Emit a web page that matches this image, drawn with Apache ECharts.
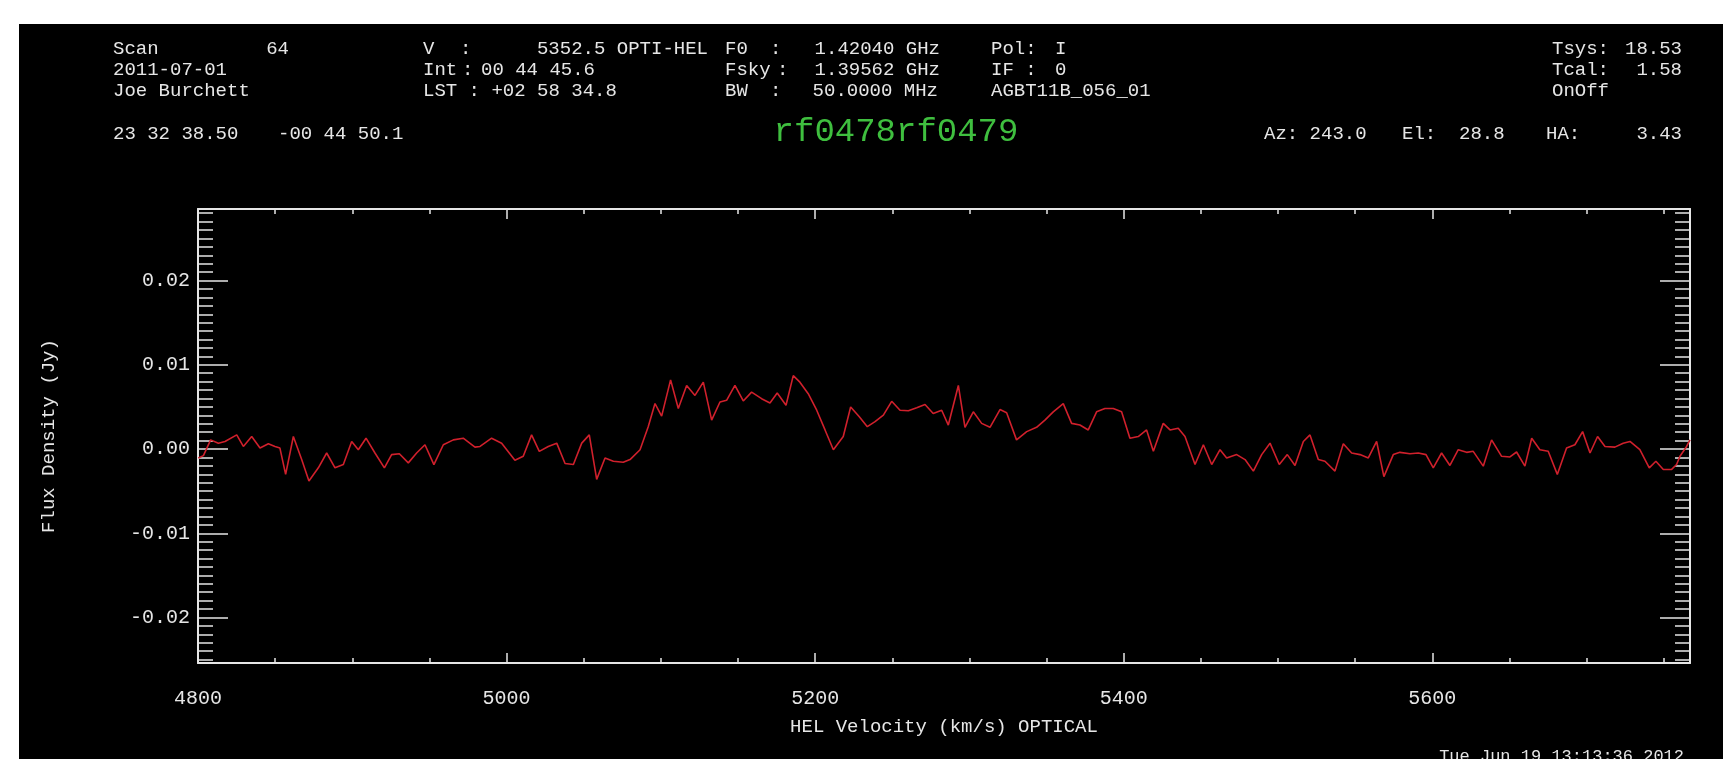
<!DOCTYPE html>
<html>
<head>
<meta charset="utf-8">
<title>rf0478rf0479</title>
<script src="https://cdn.jsdelivr.net/npm/echarts@6/dist/echarts.min.js"></script>
<style>
  html, body { margin: 0; padding: 0; background: #ffffff; }
  #panel { position: absolute; left: 19px; top: 24px; right: 0; bottom: 0; background: #000000; }
  #chart { position: absolute; left: 0; top: 0; width: 1723px; height: 759px; }
</style>
</head>
<body>
<div id="panel"></div>
<div id="chart"></div>
<script>
// Spectrum: heliocentric optical velocity (km/s) and flux density (Jy)
const velocity = [
  4800.2, 4803.5, 4808.2, 4813.2, 4817.5, 4825.1, 4829.4, 4834.8, 4840.2, 4845.6,
  4849.9, 4853.1, 4856.8, 4861.8, 4867.2, 4871.9, 4878.0, 4883.4, 4888.8, 4894.2,
  4899.6, 4903.9, 4908.9, 4914.7, 4920.8, 4925.5, 4930.5, 4936.3, 4941.7, 4947.1,
  4952.9, 4959.0, 4965.5, 4971.9, 4979.5, 4982.8, 4990.3, 4996.8, 5005.4, 5010.8,
  5016.2, 5021.2, 5027.0, 5032.5, 5037.9, 5043.3, 5048.7, 5053.6, 5058.4, 5063.8,
  5069.2, 5075.6, 5080.0, 5086.5, 5091.8, 5096.2, 5100.5, 5106.3, 5111.3, 5116.7,
  5122.1, 5127.5, 5132.9, 5138.3, 5142.6, 5148.0, 5153.4, 5158.8, 5165.3, 5170.7,
  5175.4, 5181.1, 5185.8, 5190.1, 5195.5, 5201.0, 5206.4, 5211.8, 5218.2, 5223.0,
  5228.6, 5233.8, 5238.8, 5244.2, 5249.6, 5255.0, 5260.4, 5265.8, 5271.2, 5276.5,
  5282.0, 5286.3, 5292.8, 5297.1, 5302.5, 5307.9, 5313.3, 5319.8, 5324.1, 5330.5,
  5337.1, 5343.5, 5348.9, 5354.3, 5360.8, 5366.2, 5371.6, 5377.0, 5382.4, 5387.8,
  5393.2, 5398.6, 5404.0, 5409.4, 5414.8, 5419.2, 5425.6, 5430.0, 5435.3, 5439.7,
  5446.2, 5451.6, 5457.0, 5462.4, 5466.7, 5473.2, 5478.6, 5484.0, 5489.4, 5494.8,
  5500.8, 5506.0, 5511.0, 5516.4, 5520.7, 5526.1, 5530.4, 5536.9, 5542.3, 5547.7,
  5553.1, 5558.5, 5563.9, 5568.6, 5574.7, 5579.0, 5585.5, 5590.9, 5595.9, 5600.6,
  5606.0, 5611.4, 5616.8, 5622.2, 5626.5, 5633.0, 5638.4, 5644.9, 5650.3, 5654.6,
  5660.0, 5664.4, 5669.7, 5675.1, 5681.0, 5687.0, 5692.4, 5697.4, 5702.2, 5707.1,
  5711.9, 5718.3, 5723.7, 5728.1, 5734.5, 5740.6, 5744.9, 5749.7, 5755.1, 5758.3,
  5760.5, 5764.8, 5767.0
];
const flux = [
  -0.00106, -0.00078, 0.00109, 0.00070, 0.00090, 0.00168, 0.00031, 0.00149, 0.00012, 0.00063,
  0.00031, 0.00012, -0.00301, 0.00149, -0.00125, -0.00379, -0.00223, -0.00047, -0.00223, -0.00184,
  0.00090, -0.00008, 0.00129, -0.00047, -0.00223, -0.00066, -0.00055, -0.00164, -0.00047, 0.00051,
  -0.00184, 0.00051, 0.00109, 0.00129, 0.00023, 0.00031, 0.00129, 0.00070, -0.00133, -0.00086,
  0.00168, -0.00027, 0.00031, 0.00070, -0.00172, -0.00184, 0.00070, 0.00168, -0.00360, -0.00106,
  -0.00145, -0.00156, -0.00125, -0.00008, 0.00266, 0.00540, 0.00391, 0.00821, 0.00481, 0.00755,
  0.00637, 0.00794, 0.00344, 0.00559, 0.00579, 0.00755, 0.00571, 0.00676, 0.00598, 0.00547,
  0.00665, 0.00520, 0.00872, 0.00794, 0.00657, 0.00461, 0.00227, -0.00008, 0.00149, 0.00500,
  0.00383, 0.00266, 0.00325, 0.00403, 0.00567, 0.00461, 0.00454, 0.00489, 0.00528, 0.00422,
  0.00461, 0.00285, 0.00755, 0.00258, 0.00442, 0.00305, 0.00258, 0.00469, 0.00430, 0.00109,
  0.00207, 0.00258, 0.00344, 0.00442, 0.00540, 0.00305, 0.00285, 0.00227, 0.00442, 0.00481,
  0.00481, 0.00442, 0.00129, 0.00149, 0.00227, -0.00027, 0.00305, 0.00227, 0.00246, 0.00149,
  -0.00184, 0.00051, -0.00184, -0.00008, -0.00106, -0.00066, -0.00125, -0.00262, -0.00066, 0.00070,
  -0.00184, -0.00066, -0.00195, 0.00090, 0.00168, -0.00125, -0.00145, -0.00262, 0.00063, -0.00047,
  -0.00066, -0.00106, 0.00090, -0.00328, -0.00066, -0.00039, -0.00055, -0.00047, -0.00066, -0.00223,
  -0.00047, -0.00195, -0.00008, -0.00039, -0.00027, -0.00203, 0.00109, -0.00086, -0.00094, -0.00035,
  -0.00203, 0.00129, -0.00008, -0.00027, -0.00301, 0.00012, 0.00051, 0.00207, -0.00047, 0.00149,
  0.00031, 0.00023, 0.00070, 0.00090, -0.00008, -0.00223, -0.00145, -0.00242, -0.00242, -0.00184,
  -0.00086, 0.00031, 0.00110
];

// Axis ranges and tick values
const xRange = [4800, 5767];
const yRange = [-0.0254, 0.0285];
const xMajorTicks = [4800, 5000, 5200, 5400, 5600];
const yMajorTicks = [-0.02, -0.01, 0.00, 0.01, 0.02];
const xMinorTicks = [];
for (let v = 4850; v < xRange[1]; v += 50) xMinorTicks.push(v);
const yMinorTicks = [];
for (let k = -25; k <= 28; k++) yMinorTicks.push(k / 1000);

const FG = '#e6e6e6';
const MONO = '"Liberation Mono", "DejaVu Sans Mono", monospace';

// One side of the plot frame: an axis line (optional) plus inward ticks at given values
function frameAxis(pos, range, ticks, tickLen, showLine, extra) {
  return Object.assign({
    type: 'value', position: pos, min: range[0], max: range[1], gridIndex: 0,
    axisLine: { show: showLine, onZero: false, lineStyle: { color: FG, width: 2 } },
    axisTick: { show: true, inside: true, length: tickLen, customValues: ticks,
                lineStyle: { color: FG, width: 1.5 } },
    axisLabel: { show: false },
    splitLine: { show: false }, minorTick: { show: false }, minorSplitLine: { show: false }
  }, extra || {});
}

// Header block text: [text, x, y, align]
const header = [
  ['Scan', 113, 49, 'left'], ['64', 289, 49, 'right'],
  ['V', 423, 49, 'left'], [':', 460, 49, 'left'], ['5352.5 OPTI-HEL', 708, 49, 'right'],
  ['F0', 725, 49, 'left'], [':', 770, 49, 'left'], ['1.42040 GHz', 940, 49, 'right'],
  ['Pol:', 991, 49, 'left'], ['I', 1055, 49, 'left'],
  ['Tsys:', 1552, 49, 'left'], ['18.53', 1682, 49, 'right'],

  ['2011-07-01', 113, 70, 'left'],
  ['Int', 423, 70, 'left'], [':', 462, 70, 'left'], ['00 44 45.6', 481, 70, 'left'],
  ['Fsky', 725, 70, 'left'], [':', 777, 70, 'left'], ['1.39562 GHz', 940, 70, 'right'],
  ['IF :', 991, 70, 'left'], ['0', 1055, 70, 'left'],
  ['Tcal:', 1552, 70, 'left'], ['1.58', 1682, 70, 'right'],

  ['Joe Burchett', 113, 91, 'left'],
  ['LST : +02 58 34.8', 423, 91, 'left'],
  ['BW', 725, 91, 'left'], [':', 770, 91, 'left'], ['50.0000 MHz', 938, 91, 'right'],
  ['AGBT11B_056_01', 991, 91, 'left'],
  ['OnOff', 1552, 91, 'left'],

  ['23 32 38.50', 113, 134, 'left'], ['-00 44 50.1', 278, 134, 'left'],
  ['Az: 243.0', 1264, 134, 'left'], ['El:  28.8', 1402, 134, 'left'],
  ['HA:', 1546, 134, 'left'], ['3.43', 1682, 134, 'right']
];

const graphics = header.map(function (h) {
  return {
    type: 'text', x: h[1], y: h[2], silent: true,
    style: { text: h[0], fill: FG, font: '19px ' + MONO,
             align: h[3], textAlign: h[3], verticalAlign: 'middle', textVerticalAlign: 'middle' }
  };
});
graphics.push({
  type: 'text', x: 896, y: 132, silent: true,
  style: { text: 'rf0478rf0479', fill: '#3fbf3f', font: '34px ' + MONO,
           align: 'center', textAlign: 'center', verticalAlign: 'middle', textVerticalAlign: 'middle' }
});
graphics.push({
  type: 'text', x: 1684, y: 756, silent: true,
  style: { text: 'Tue Jun 19 13:13:36 2012', fill: FG, font: '17px ' + MONO,
           align: 'right', textAlign: 'right', verticalAlign: 'middle', textVerticalAlign: 'middle' }
});

const chart = echarts.init(document.getElementById('chart'), null, { renderer: 'canvas' });
chart.setOption({
  backgroundColor: 'transparent',
  animation: false,
  grid: { left: 198, top: 209, width: 1492, height: 454, containLabel: false },
  xAxis: [
    frameAxis('bottom', xRange, xMajorTicks, 10, true, {
      axisLabel: { show: true, customValues: xMajorTicks, color: FG, fontFamily: MONO,
                   fontSize: 20, margin: 26, formatter: function (v) { return String(v); } },
      name: 'HEL Velocity (km/s) OPTICAL', nameLocation: 'middle', nameGap: 54,
      nameTextStyle: { color: FG, fontFamily: MONO, fontSize: 19 }
    }),
    frameAxis('bottom', xRange, xMinorTicks, 5, false),
    frameAxis('top', xRange, xMajorTicks, 10, true),
    frameAxis('top', xRange, xMinorTicks, 5, false)
  ],
  yAxis: [
    frameAxis('left', yRange, yMajorTicks, 30, true, {
      axisLabel: { show: true, customValues: yMajorTicks, color: FG, fontFamily: MONO,
                   fontSize: 20, margin: 8, formatter: function (v) { return v.toFixed(2); } },
      name: 'Flux Density (Jy)', nameLocation: 'middle', nameRotate: 90, nameGap: 140,
      nameTextStyle: { color: FG, fontFamily: MONO, fontSize: 19 }
    }),
    frameAxis('left', yRange, yMinorTicks, 15, false),
    frameAxis('right', yRange, yMajorTicks, 30, true),
    frameAxis('right', yRange, yMinorTicks, 15, false)
  ],
  graphic: graphics,
  series: [{
    type: 'line',
    xAxisIndex: 0, yAxisIndex: 0,
    data: velocity.map(function (v, i) { return [v, flux[i]]; }),
    showSymbol: false, symbol: 'none', clip: true,
    lineStyle: { color: '#d0202c', width: 1.6 },
    z: 3
  }]
});
</script>
</body>
</html>
